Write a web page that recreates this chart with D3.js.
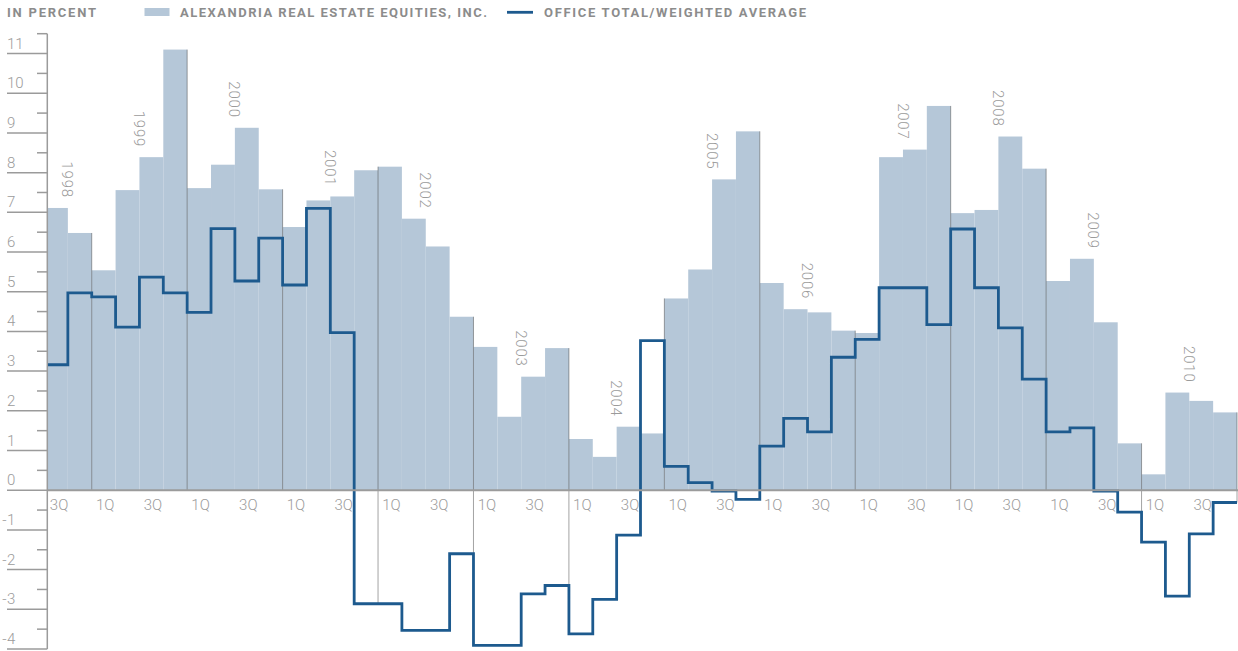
<!DOCTYPE html>
<html>
<head>
<meta charset="utf-8">
<script src="https://cdn.jsdelivr.net/npm/d3@7"></script>
<style>
  body { margin: 0; background: #fff; }
  svg { display: block; font-family: Roboto, "Noto Sans", sans-serif; }
</style>
</head>
<body>
<svg id="chart" width="1238" height="651"></svg>
<script>
// quarters run from 3Q 1998 to 4Q 2010
var years = [1998, 1999, 2000, 2001, 2002, 2003, 2004, 2005, 2006, 2007, 2008, 2009, 2010]
var quarterNames = ["1Q", "2Q", "3Q", "4Q"]

// Alexandria Real Estate Equities, Inc. (bars), in percent
var alexandria = [7.11, 6.48,
    5.54, 7.56, 8.39, 11.10,
    7.61, 8.20, 9.13, 7.58,
    6.63, 7.30, 7.40, 8.06,
    8.15, 6.84, 6.14, 4.37,
    3.61, 1.85, 2.86, 3.58,
    1.29, 0.84, 1.60, 1.43,
    4.83, 5.56, 7.83, 9.04,
    5.22, 4.56, 4.48, 4.02,
    3.96, 8.39, 8.58, 9.68,
    6.98, 7.06, 8.91, 8.10,
    5.27, 5.83, 4.23, 1.18,
    0.40, 2.46, 2.25, 1.96]

// Office total / weighted average (step line), in percent
var office = [3.16, 4.97,
    4.87, 4.11, 5.37, 4.97,
    4.48, 6.59, 5.27, 6.35,
    5.17, 7.10, 3.97, -2.86,
    -2.86, -3.53, -3.53, -1.60,
    -3.91, -3.91, -2.61, -2.40,
    -3.62, -2.75, -1.13, 3.77,
    0.60, 0.19, -0.02, -0.23,
    1.11, 1.81, 1.47, 3.35,
    3.80, 5.10, 5.10, 4.17,
    6.58, 5.10, 4.09, 2.80,
    1.47, 1.57, -0.02, -0.55,
    -1.31, -2.67, -1.10, -0.31]

var yTicks = d3.range(-4, 12)        // labelled integers
var yMinor = d3.range(-3.5, 12, 1)   // short ticks

// build the list of quarters
var periods = []
years.forEach(function(yr) {
    quarterNames.forEach(function(q, qi) {
        if (yr === 1998 && qi < 2) return
        periods.push({year: yr, q: q})
    })
})

var grey = "#9b9b9b"
var axisX = 47.3

var svg = d3.select("#chart")

var x = d3.scaleLinear().domain([0, periods.length]).range([44, 1237])
var y = d3.scaleLinear().domain([-4, 11.5]).range([649, 33.7])

svg.append("clipPath").attr("id", "plotclip")
    .append("rect")
    .attr("x", axisX).attr("y", 0)
    .attr("width", 1238 - axisX).attr("height", 651)

var plot = svg.append("g").attr("clip-path", "url(#plotclip)")

// bars
plot.selectAll("rect.bar")
    .data(alexandria)
    .join("rect")
    .attr("class", "bar")
    .attr("x", function(d, i) { return x(i) })
    .attr("width", function(d, i) { return x(i + 1) - x(i) })
    .attr("y", function(d) { return y(d) })
    .attr("height", function(d) { return y(0) - y(d) })
    .attr("fill", "#b5c7d8")

// year separators (year boundaries + right end)
var boundaries = []
periods.forEach(function(p, i) {
    if (i > 0 && p.q === "1Q") boundaries.push(i)
})
boundaries.push(periods.length)

plot.selectAll("line.sep")
    .data(boundaries)
    .join("line")
    .attr("class", "sep")
    .attr("x1", function(d) { return x(d) })
    .attr("x2", function(d) { return x(d) })
    .attr("y1", function(d) {
        var top = Math.max(alexandria[d - 1], d < alexandria.length ? alexandria[d] : 0, 0)
        return y(top)
    })
    .attr("y2", function(d) {
        var bot = Math.min(0, office[d - 1], d < office.length ? office[d] : 0)
        return y(bot)
    })
    .attr("stroke", "#4a4a4a")
    .attr("stroke-opacity", 0.5)
    .attr("stroke-width", 1)

// zero line
svg.append("line")
    .attr("x1", axisX).attr("x2", 1238)
    .attr("y1", y(0)).attr("y2", y(0))
    .attr("stroke", grey)
    .attr("stroke-width", 2)

// step line
var stepPoints = office.map(function(v, i) { return [x(i), y(v)] })
stepPoints.push([x(office.length), y(office[office.length - 1])])

var line = d3.line().curve(d3.curveStepAfter)

plot.append("path")
    .attr("d", line(stepPoints))
    .attr("fill", "none")
    .attr("stroke", "#1d5a8e")
    .attr("stroke-width", 2.8)
    .attr("stroke-linejoin", "miter")

// y axis
svg.append("line")
    .attr("x1", axisX).attr("x2", axisX)
    .attr("y1", y(11.5)).attr("y2", y(-4))
    .attr("stroke", grey).attr("stroke-width", 1.5)

svg.selectAll("line.major")
    .data(yTicks)
    .join("line")
    .attr("class", "major")
    .attr("x1", 7).attr("x2", axisX)
    .attr("y1", function(d) { return y(d) })
    .attr("y2", function(d) { return y(d) })
    .attr("stroke", grey).attr("stroke-width", 1.5)

svg.selectAll("line.minor")
    .data(yMinor)
    .join("line")
    .attr("class", "minor")
    .attr("x1", 37).attr("x2", axisX)
    .attr("y1", function(d) { return y(d) })
    .attr("y2", function(d) { return y(d) })
    .attr("stroke", grey).attr("stroke-width", 1.5)

// digits left aligned at x=7, minus sign hangs to the left
svg.selectAll("text.ylab")
    .data(yTicks)
    .join("text")
    .attr("class", "ylab")
    .attr("x", 7)
    .attr("y", function(d) { return y(d) - 5 })
    .attr("fill", grey)
    .style("font-size", "15px")
    .style("font-weight", 300)
    .text(function(d) { return Math.abs(d) })

svg.selectAll("text.yminus")
    .data(yTicks.filter(function(d) { return d < 0 }))
    .join("text")
    .attr("class", "yminus")
    .attr("x", 6.5)
    .attr("y", function(d) { return y(d) - 5 })
    .attr("text-anchor", "end")
    .attr("fill", grey)
    .style("font-size", "15px")
    .style("font-weight", 300)
    .text("-")

// quarter labels
svg.selectAll("text.qlab")
    .data(periods.map(function(p, i) { return {p: p, i: i} })
        .filter(function(d) { return d.p.q === "1Q" || d.p.q === "3Q" }))
    .join("text")
    .attr("class", "qlab")
    .attr("x", function(d) {
        var left = Math.max(x(d.i), axisX)
        return (left + x(d.i + 1)) / 2 + 1.5
    })
    .attr("y", 510)
    .attr("text-anchor", "middle")
    .attr("fill", grey)
    .style("font-size", "15px")
    .style("font-weight", 300)
    .text(function(d) { return d.p.q })

// year labels, rotated, sitting above the middle of each year
var yearLabels = years.map(function(yr) {
    var first = periods.findIndex(function(p) { return p.year === yr })
    var mid = yr === 1998 ? first + 1 : first + 2
    return {year: yr, idx: mid, top: Math.max(alexandria[mid - 1], alexandria[mid])}
})

svg.selectAll("text.year")
    .data(yearLabels)
    .join("text")
    .attr("class", "year")
    .attr("transform", function(d) {
        return "translate(" + x(d.idx) + "," + (y(d.top) - 10) + ") rotate(90)"
    })
    .attr("text-anchor", "end")
    .attr("dy", "0.36em")
    .attr("fill", grey)
    .style("font-size", "15px")
    .style("font-weight", 300)
    .style("letter-spacing", "0.8px")
    .text(function(d) { return d.year })

// header / legend
var header = svg.append("g")
    .style("font-size", "13px")
    .style("font-weight", 700)
    .attr("fill", "#8c8c8c")

header.append("text")
    .attr("x", 7).attr("y", 17.3)
    .attr("textLength", 89).attr("lengthAdjust", "spacing")
    .text("IN PERCENT")

header.append("rect")
    .attr("x", 144.5).attr("y", 8)
    .attr("width", 25).attr("height", 8)
    .attr("fill", "#b5c7d8")

header.append("text")
    .attr("x", 180).attr("y", 17.3)
    .attr("textLength", 307).attr("lengthAdjust", "spacing")
    .text("ALEXANDRIA REAL ESTATE EQUITIES, INC.")

header.append("line")
    .attr("x1", 507).attr("x2", 533)
    .attr("y1", 12.3).attr("y2", 12.3)
    .attr("stroke", "#1d5a8e").attr("stroke-width", 2.8)

header.append("text")
    .attr("x", 544).attr("y", 17.3)
    .attr("textLength", 262).attr("lengthAdjust", "spacing")
    .text("OFFICE TOTAL/WEIGHTED AVERAGE")
</script>
</body>
</html>
